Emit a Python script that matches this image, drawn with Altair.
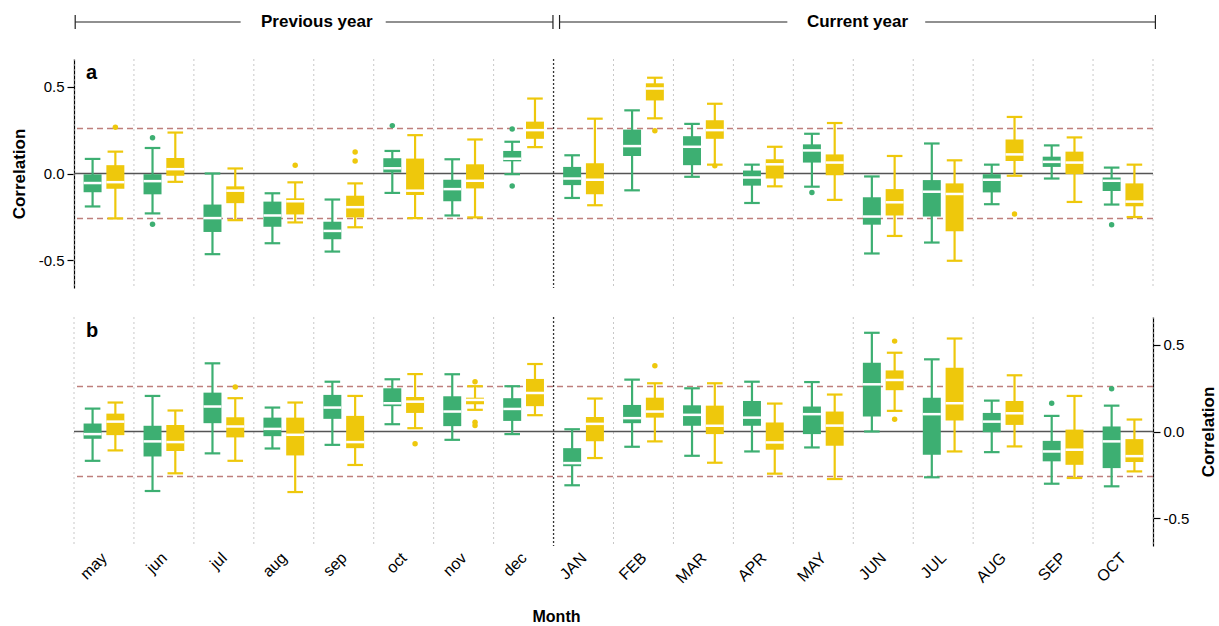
import json
import altair as alt
import pandas as pd

FONT = "Liberation Sans"
GREEN = "#3DAF72"
YELLOW = "#EEC80C"

months = ["may", "jun", "jul", "aug", "sep", "oct", "nov", "dec",
          "JAN", "FEB", "MAR", "APR", "MAY", "JUN", "JUL", "AUG", "SEP", "OCT"]

# ---------------- panel a ----------------
a_s1_max = [0.084, 0.147, 0.0, -0.114, -0.15, 0.13, 0.082, 0.183, 0.105, 0.364, 0.286, 0.051, 0.229, -0.017, 0.173, 0.051, 0.162, 0.034]
a_s1_q3 = [-0.005, -0.004, -0.179, -0.162, -0.278, 0.088, -0.036, 0.13, 0.038, 0.253, 0.215, 0.017, 0.168, -0.137, -0.038, -0.004, 0.097, -0.023]
a_s1_med = [-0.055, -0.044, -0.257, -0.242, -0.331, 0.03, -0.09, 0.085, -0.029, 0.158, 0.154, -0.023, 0.133, -0.248, -0.105, -0.036, 0.067, -0.042]
a_s1_q1 = [-0.108, -0.12, -0.337, -0.307, -0.379, 0.006, -0.16, 0.07, -0.067, 0.101, 0.048, -0.07, 0.063, -0.295, -0.248, -0.109, 0.038, -0.101]
a_s1_min = [-0.19, -0.23, -0.465, -0.402, -0.45, -0.112, -0.242, -0.004, -0.141, -0.097, -0.019, -0.17, -0.076, -0.461, -0.398, -0.177, -0.029, -0.179]

a_s2_max = [0.126, 0.236, 0.029, -0.051, -0.057, 0.221, 0.196, 0.432, 0.316, 0.552, 0.402, 0.154, 0.291, 0.101, 0.076, 0.326, 0.208, 0.051]
a_s2_q3 = [0.048, 0.09, -0.074, -0.143, -0.128, 0.086, 0.053, 0.299, 0.059, 0.52, 0.307, 0.082, 0.11, -0.09, -0.057, 0.196, 0.126, -0.057]
a_s2_med = [-0.05, 0.025, -0.099, -0.16, -0.194, -0.099, -0.042, 0.25, -0.036, 0.49, 0.25, 0.053, 0.063, -0.166, -0.118, 0.11, 0.063, -0.162]
a_s2_q1 = [-0.088, -0.013, -0.171, -0.236, -0.253, -0.124, -0.086, 0.2, -0.12, 0.421, 0.2, -0.029, -0.01, -0.242, -0.333, 0.072, -0.004, -0.189]
a_s2_min = [-0.259, -0.048, -0.269, -0.282, -0.31, -0.257, -0.253, 0.152, -0.183, 0.318, 0.051, -0.074, -0.152, -0.36, -0.503, -0.013, -0.164, -0.251]

a_out_month = ["jun", "jun", "oct", "dec", "dec", "MAY", "OCT", "may", "aug", "sep", "sep", "FEB", "MAR", "AUG"]
a_out_series = ["S1", "S1", "S1", "S1", "S1", "S1", "S1", "S2", "S2", "S2", "S2", "S2", "S2", "S2"]
a_out_value = [0.206, -0.293, 0.276, 0.257, -0.072, -0.109, -0.295, 0.267, 0.048, 0.124, 0.072, 0.246, 0.044, -0.234]

# ---------------- panel b ----------------
b_s1_max = [0.132, 0.205, 0.393, 0.138, 0.287, 0.301, 0.33, 0.261, 0.013, 0.299, 0.249, 0.287, 0.285, 0.569, 0.416, 0.178, 0.09, 0.149]
b_s1_q3 = [0.046, 0.033, 0.224, 0.08, 0.211, 0.249, 0.203, 0.192, -0.096, 0.153, 0.151, 0.176, 0.144, 0.397, 0.195, 0.107, -0.054, 0.029]
b_s1_med = [-0.015, -0.057, 0.144, 0.015, 0.138, 0.163, 0.115, 0.13, -0.182, 0.077, 0.096, 0.08, 0.1, 0.272, 0.1, 0.057, -0.115, -0.057]
b_s1_q1 = [-0.042, -0.144, 0.048, -0.027, 0.073, 0.146, 0.031, 0.061, -0.2, 0.048, 0.033, 0.033, -0.015, 0.086, -0.134, -0.004, -0.172, -0.211]
b_s1_min = [-0.169, -0.343, -0.126, -0.098, -0.077, 0.042, -0.048, -0.015, -0.31, -0.088, -0.14, -0.115, -0.092, 0.0, -0.264, -0.119, -0.301, -0.316]

b_s2_max = [0.167, 0.121, 0.192, 0.167, 0.205, 0.331, 0.261, 0.389, 0.19, 0.278, 0.278, 0.161, 0.213, 0.454, 0.536, 0.324, 0.205, 0.069]
b_s2_q3 = [0.103, 0.038, 0.082, 0.08, 0.09, 0.199, 0.195, 0.303, 0.084, 0.195, 0.149, 0.052, 0.115, 0.352, 0.368, 0.176, 0.011, -0.044]
b_s2_med = [0.057, -0.061, 0.029, -0.019, -0.061, 0.172, 0.182, 0.222, 0.044, 0.115, 0.033, -0.063, 0.034, 0.297, 0.163, 0.105, -0.105, -0.142]
b_s2_q1 = [-0.021, -0.113, -0.034, -0.138, -0.096, 0.107, 0.157, 0.146, -0.056, 0.08, -0.015, -0.105, -0.082, 0.238, 0.063, 0.038, -0.192, -0.176]
b_s2_min = [-0.109, -0.241, -0.169, -0.349, -0.193, 0.019, 0.125, 0.094, -0.153, -0.057, -0.18, -0.243, -0.274, 0.119, -0.115, -0.086, -0.268, -0.23]

b_out_month = ["SEP", "OCT", "jul", "oct", "nov", "nov", "nov", "FEB", "JUN", "JUN"]
b_out_series = ["S1", "S1", "S2", "S2", "S2", "S2", "S2", "S2", "S2", "S2"]
b_out_value = [0.163, 0.247, 0.257, -0.071, 0.287, 0.054, 0.034, 0.379, 0.521, 0.071]

threshold = 0.26

# ---------------- layout constants ----------------
OFFSET = {"S1": -0.19, "S2": 0.19}
BOX_HALF = 0.15
CAP_HALF = 0.13
W, H = 1079, 229

xs = alt.Scale(domain=[0, 18], nice=False, zero=False)
ys = alt.Scale(domain=[-0.66, 0.66], nice=False, zero=False)
cscale = alt.Scale(domain=["S1", "S2"], range=[GREEN, YELLOW])


def box_frame(panel, s1, s2):
    rows = []
    for s, st in (("S1", s1), ("S2", s2)):
        mn, q1, md, q3, mx = st
        for i, m in enumerate(months):
            c = i + 0.5 + OFFSET[s]
            rows.append(dict(panel=panel, series=s, month=m, pos=c,
                             left=c - BOX_HALF, right=c + BOX_HALF,
                             capl=c - CAP_HALF, capr=c + CAP_HALF,
                             vmin=mn[i], q1=q1[i], med=md[i], q3=q3[i], vmax=mx[i]))
    return pd.DataFrame(rows)


def out_frame(ms, ss, vs):
    return pd.DataFrame({
        "series": ss,
        "value": vs,
        "pos": [months.index(m) + 0.5 + OFFSET[s] for m, s in zip(ms, ss)],
    })


ylabel_expr = "datum.value < 0 ? '-' + format(-datum.value, '.1f') : format(datum.value, '.1f')"


def y_axis(orient, title_x):
    return alt.Axis(orient=orient, values=[-0.5, 0, 0.5], labelExpr=ylabel_expr,
                    tickSize=7, tickWidth=1.2, tickColor="black",
                    domainColor="black", domainWidth=1.2,
                    labelFont=FONT, labelFontSize=15, labelColor="black", labelPadding=3,
                    labelFlush=False, grid=False,
                    title="Correlation", titleFont=FONT, titleFontSize=17,
                    titleFontWeight="bold", titleColor="black", titleAngle=270,
                    titleX=title_x, titleY=H / 2, titleAlign="center",
                    titleBaseline="middle")


x_axis_b = alt.Axis(values=[i + 0.5 for i in range(18)],
                    labelExpr=json.dumps(months) + "[floor(datum.value)]",
                    labelAngle=315, labelAlign="right", labelBaseline="middle",
                    labelFont=FONT, labelFontSize=16, labelColor="black",
                    labelPadding=9, labelOverlap=False, labelFlush=False,
                    domain=False, ticks=False, grid=False,
                    title="Month", titleFont=FONT, titleFontSize=16,
                    titleFontWeight="bold", titleColor="black",
                    titleX=482, titleY=70, titleAlign="center", titleBaseline="middle")


def make_panel(df, odf, label, yaxis, xaxis, header=False):
    def X(f):
        return alt.X(f + ":Q", scale=xs, axis=xaxis)

    def Y(f):
        return alt.Y(f + ":Q", scale=ys, axis=yaxis)

    col = alt.Color("series:N", scale=cscale, legend=None)

    grid = alt.Chart(pd.DataFrame({"b": [k for k in range(19) if k != 8]})).mark_rule(
        color="#c8c8c8", strokeWidth=1, strokeDash=[2, 3]).encode(x=X("b"))
    divider = alt.Chart(pd.DataFrame({"b": [8]})).mark_rule(
        color="#333333", strokeWidth=1.3, strokeDash=[2, 2]).encode(x=X("b"))
    dashed = alt.Chart(pd.DataFrame({"v": [threshold, -threshold]})).mark_rule(
        color="#BE7F7C", strokeWidth=1.5, strokeDash=[6, 4]).encode(y=Y("v"))
    zero = alt.Chart(pd.DataFrame({"v": [0.0]})).mark_rule(
        color="#555555", strokeWidth=1.3).encode(y=Y("v"))

    base = alt.Chart(df)
    whisk = base.mark_rule(strokeWidth=2.2).encode(x=X("pos"), y=Y("vmin"), y2="vmax:Q", color=col)
    cap_lo = base.mark_rule(strokeWidth=2.2).encode(x=X("capl"), x2="capr:Q", y=Y("vmin"), color=col)
    cap_hi = base.mark_rule(strokeWidth=2.2).encode(x=X("capl"), x2="capr:Q", y=Y("vmax"), color=col)
    box = base.mark_bar().encode(x=X("left"), x2="right:Q", y=Y("q1"), y2="q3:Q", color=col)
    med = base.mark_rule(color="white", strokeWidth=2.5).encode(x=X("left"), x2="right:Q", y=Y("med"))
    outl = alt.Chart(odf).mark_circle(size=30, opacity=1).encode(x=X("pos"), y=Y("value"), color=col)

    lab = alt.Chart(pd.DataFrame({"t": [label]})).mark_text(
        font=FONT, fontSize=20, fontWeight="bold", align="left", baseline="middle",
        color="black").encode(text="t:N", x=alt.value(12), y=alt.value(14))

    layers = [grid, divider, dashed, zero, whisk, cap_lo, cap_hi, box, med, outl, lab]

    if header:
        seg = pd.DataFrame({"x1": [0.02, 5.2, 8.1, 14.2], "x2": [2.78, 7.99, 11.9, 18.04]})
        ends = pd.DataFrame({"t": [0.02, 7.99, 8.1, 18.04]})
        txt = pd.DataFrame({"c": [4.05, 13.07], "t": ["Previous year", "Current year"]})
        hl = alt.Chart(seg).mark_rule(color="#222222", strokeWidth=1.2).encode(
            x=X("x1"), x2="x2:Q", y=alt.value(-37))
        he = alt.Chart(ends).mark_rule(color="#222222", strokeWidth=1.2).encode(
            x=X("t"), y=alt.value(-44), y2=alt.value(-30))
        ht = alt.Chart(txt).mark_text(font=FONT, fontSize=17, fontWeight="bold",
                                      color="black", baseline="middle").encode(
            x=X("c"), y=alt.value(-37), text="t:N")
        layers += [hl, he, ht]

    return alt.layer(*layers).properties(width=W, height=H)


df_a = box_frame("a", (a_s1_min, a_s1_q1, a_s1_med, a_s1_q3, a_s1_max),
                 (a_s2_min, a_s2_q1, a_s2_med, a_s2_q3, a_s2_max))
df_b = box_frame("b", (b_s1_min, b_s1_q1, b_s1_med, b_s1_q3, b_s1_max),
                 (b_s2_min, b_s2_q1, b_s2_med, b_s2_q3, b_s2_max))
od_a = out_frame(a_out_month, a_out_series, a_out_value)
od_b = out_frame(b_out_month, b_out_series, b_out_value)

pa = make_panel(df_a, od_a, "a", y_axis("left", -55), None, header=True)
pb = make_panel(df_b, od_b, "b", y_axis("right", 55), x_axis_b)

chart = alt.vconcat(pa, pb, spacing=27).properties(
    padding={"left": 10, "top": 13, "right": 0, "bottom": 0}
).configure(font=FONT).configure_view(stroke=None)

chart.save("out.html", embed_options={"renderer": "svg", "actions": False})
